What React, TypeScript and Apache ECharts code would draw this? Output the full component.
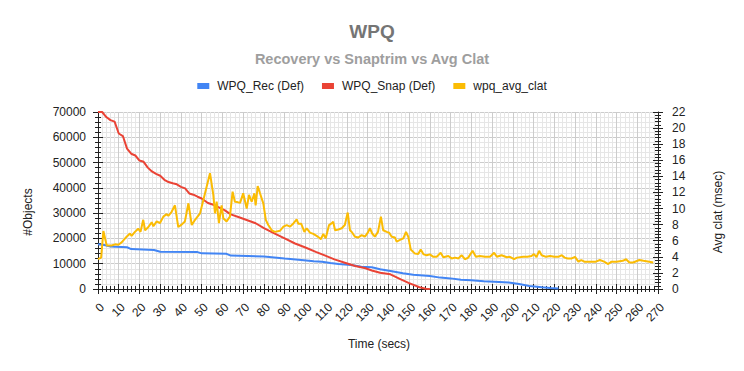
import React, { useEffect, useRef } from "react";
import * as echarts from "echarts";

const FONT = 'Arial, "Liberation Sans", sans-serif';

const titleText = "WPQ";
const subtitleText = "Recovery vs Snaptrim vs Avg Clat";
const seriesNames = ["WPQ_Rec (Def)", "WPQ_Snap (Def)", "wpq_avg_clat"];
const xAxisName = "Time (secs)";
const leftAxisName = "#Objects";
const rightAxisName = "Avg clat (msec)";

const recTime = [0, 3, 6, 14, 16, 27, 30, 48, 50, 62, 64, 80, 85, 90, 98, 104, 108, 112, 116, 122, 127, 132, 136, 141, 147, 152, 160, 165, 170, 175, 180, 186, 191, 198, 203, 208, 214, 218, 222];
const recValues = [17700, 17400, 16800, 16500, 15800, 15400, 14700, 14600, 14100, 13900, 13200, 12900, 12500, 12100, 11500, 11000, 10800, 10300, 9900, 9500, 8800, 8600, 7800, 7100, 6200, 5600, 5100, 4500, 4200, 3700, 3500, 3100, 2900, 2600, 2000, 1200, 700, 400, 200];

const snapTime = [0, 2, 4, 6, 8, 10, 12, 14, 16, 18, 20, 22, 24, 26, 28, 30, 32, 34, 36, 38, 40, 42, 44, 46, 48, 50, 53, 56, 61, 64, 68, 71, 76, 80, 85, 90, 95, 100, 105, 109, 114, 119, 124, 129, 132, 136, 141, 146, 150, 155, 158, 160];
const snapValues = [70000, 70000, 68000, 66800, 66200, 61500, 60500, 55500, 53500, 52800, 50800, 50300, 48000, 46500, 45500, 44800, 43200, 42300, 41800, 41400, 40400, 39800, 37800, 37300, 36500, 35800, 34000, 33200, 31200, 29500, 28400, 27500, 26000, 24100, 22000, 20000, 18000, 16400, 14700, 13400, 11700, 10400, 9100, 8200, 7300, 6400, 5800, 3800, 2300, 700, 100, 0];

const clatTime = [0, 1.5, 2.6, 4.2, 6.6, 8.2, 9.8, 11.4, 13.8, 15.4, 16.2, 17.8, 19.4, 20.5, 21.8, 22.7, 24.3, 25.9, 26.7, 28.3, 29.9, 31.5, 33.1, 33.9, 35.5, 37.1, 38.7, 40.3, 41.9, 43.6, 45.2, 46.8, 49.2, 51.6, 54, 55.6, 56.4, 57.2, 58.3, 59.6, 60.4, 62, 63.6, 64.9, 66, 67.2, 68.5, 70, 71.7, 72.8, 74.1, 75.4, 76, 77, 78.1, 79.7, 80.9, 82.1, 83.8, 85.3, 87.8, 89.4, 91, 92.6, 94.2, 95.8, 96.6, 98, 99.5, 100.6, 102.2, 103.8, 105.4, 106.5, 107.5, 108.6, 109.8, 111.4, 112.6, 113.4, 114.3, 115.9, 117.5, 119, 120.4, 121.5, 122.6, 123.9, 125.5, 127.1, 128.7, 130.3, 131.1, 132.2, 133.5, 135, 136.4, 137.5, 139.2, 140.4, 141.6, 143.2, 144, 145.6, 147.2, 148.5, 149.6, 150.8, 152.8, 154.4, 155.6, 157, 158.5, 160, 161.7, 163.3, 165.2, 166.5, 168.9, 170.5, 172.2, 173.8, 175.3, 176.9, 178.5, 180.6, 182.2, 184.1, 186.6, 189, 191, 192.3, 194.6, 197.1, 198.6, 200.6, 202, 205, 207, 209, 210.2, 211.4, 212.7, 213.9, 216, 218, 220, 222, 223.6, 225, 226.5, 228.4, 230, 231.6, 233, 234.5, 237.2, 240, 242, 244, 246, 247.6, 250, 253, 254.6, 256.2, 258, 261, 263, 265.8, 267.7];
const clatValues = [3.7, 3.9, 7.2, 5.4, 5.4, 5.55, 5.5, 5.8, 6.5, 6.9, 6.6, 7.1, 7.5, 7.1, 8.6, 7.3, 7.7, 8.3, 7.8, 8.4, 8.2, 9.0, 9.3, 9.1, 9.6, 10.4, 7.7, 8.0, 8.4, 10.65, 7.95, 8.6, 9.4, 11.9, 14.4, 11.7, 9.4, 10.85, 8.2, 10.4, 8.8, 8.4, 9.0, 12.1, 10.85, 10.8, 10.7, 11.9, 10.0, 11.7, 10.85, 11.9, 10.4, 12.8, 11.9, 10.65, 8.6, 7.95, 7.3, 7.1, 7.25, 7.75, 7.95, 7.75, 8.15, 8.65, 8.1, 8.1, 7.1, 7.55, 7.0, 6.85, 6.6, 6.4, 6.2, 6.85, 6.3, 7.95, 8.15, 8.35, 7.3, 7.4, 7.55, 7.95, 9.5, 7.3, 7.0, 6.5, 6.4, 6.7, 6.5, 7.1, 7.55, 6.9, 6.5, 7.1, 9.0, 7.3, 7.1, 7.0, 6.5, 6.4, 5.9, 6.1, 6.3, 7.1, 6.5, 4.9, 4.4, 4.35, 4.9, 4.3, 4.2, 4.3, 4.0, 4.0, 4.5, 3.95, 4.1, 3.8, 3.9, 3.8, 4.2, 3.7, 3.9, 4.75, 4.0, 4.1, 4.0, 4.0, 4.5, 4.0, 4.2, 3.95, 4.0, 3.7, 3.9, 4.0, 4.0, 4.1, 4.35, 3.95, 4.75, 4.2, 4.0, 4.1, 4.0, 4.0, 4.2, 3.9, 3.8, 3.8, 4.0, 3.4, 3.6, 3.4, 3.4, 3.4, 3.6, 3.4, 3.1, 3.4, 3.4, 3.5, 3.7, 3.3, 3.3, 3.6, 3.5, 3.4, 3.3];

const COLORS = ["#4285F4", "#EA4335", "#FBBC04"];
const AXIS_COLOR = "#222222";
const LABEL_COLOR = "#222222";

function pairs(t: number[], v: number[]) {
  return t.map((x, i) => [x, v[i]]);
}

export default function App() {
  const ref = useRef<HTMLDivElement>(null);
  useEffect(() => {
    if (!ref.current) return;
    const chart = echarts.init(ref.current, undefined, { renderer: "svg" });
    const tickLine = { color: AXIS_COLOR, width: 1 };
    const plain = (v: number) => String(v);
    const option: any = {
      animation: false,
      textStyle: { fontFamily: FONT },
      color: COLORS,
      title: [
        {
          text: titleText,
          left: "center",
          top: 21,
          padding: 0,
          textStyle: { fontSize: 19, fontWeight: "bold", color: "#757575", lineHeight: 20, fontFamily: FONT },
        },
        {
          text: subtitleText,
          left: "center",
          top: 51,
          padding: 0,
          textStyle: { fontSize: 14.5, fontWeight: "bold", color: "#9e9e9e", lineHeight: 15, fontFamily: FONT },
        },
      ],
      legend: {
        top: 79,
        left: "center",
        padding: 0,
        icon: "rect",
        itemWidth: 12,
        itemHeight: 6,
        itemGap: 18,
        data: seriesNames,
        textStyle: { fontSize: 12, color: LABEL_COLOR, fontFamily: FONT, lineHeight: 14, padding: [0, 0, 0, 3] },
      },
      grid: { left: 98, right: 86, top: 112, bottom: 82, containLabel: false },
      xAxis: [
        {
          type: "value",
          min: 0,
          max: 270,
          interval: 10,
          position: "bottom",
          axisLine: { show: true, onZero: false, lineStyle: tickLine },
          axisTick: { show: true, length: 5, lineStyle: tickLine },
          minorTick: { show: true, splitNumber: 5, length: 3, lineStyle: tickLine },
          axisLabel: {
            rotate: 45,
            margin: 12,
            verticalAlign: "top",
            fontSize: 12,
            color: LABEL_COLOR,
            fontFamily: FONT,
            formatter: plain,
          },
          splitLine: { show: true, lineStyle: { color: "#cccccc", width: 1 } },
          minorSplitLine: { show: true, lineStyle: { color: "#e6e6e6", width: 1 } },
        },
        {
          type: "value",
          min: 0,
          max: 270,
          interval: 10,
          position: "bottom",
          axisLine: { show: false, onZero: false },
          axisTick: { show: true, inside: true, length: 5, lineStyle: tickLine },
          minorTick: { show: true, splitNumber: 5, length: 3, lineStyle: tickLine },
          axisLabel: { show: false },
          splitLine: { show: false },
        },
      ],
      yAxis: [
        {
          type: "value",
          min: 0,
          max: 70000,
          interval: 10000,
          position: "left",
          axisLine: { show: true, onZero: false, lineStyle: tickLine },
          axisTick: { show: true, length: 5, lineStyle: tickLine },
          minorTick: { show: true, splitNumber: 5, length: 3, lineStyle: tickLine },
          axisLabel: { margin: 12, fontSize: 12, color: LABEL_COLOR, fontFamily: FONT, formatter: plain },
          splitLine: { show: true, lineStyle: { color: "#cccccc", width: 1 } },
          minorSplitLine: { show: true, lineStyle: { color: "#e6e6e6", width: 1 } },
        },
        {
          type: "value",
          min: 0,
          max: 22,
          interval: 2,
          position: "right",
          axisLine: { show: true, onZero: false, lineStyle: tickLine },
          axisTick: { show: true, length: 5, lineStyle: tickLine },
          minorTick: { show: true, splitNumber: 5, length: 3, lineStyle: tickLine },
          axisLabel: { margin: 14, fontSize: 12, color: LABEL_COLOR, fontFamily: FONT, formatter: plain },
          splitLine: { show: false },
        },
        {
          type: "value",
          min: 0,
          max: 70000,
          interval: 10000,
          position: "left",
          axisLine: { show: false, onZero: false },
          axisTick: { show: true, inside: true, length: 5, lineStyle: tickLine },
          minorTick: { show: true, splitNumber: 5, length: 3, lineStyle: tickLine },
          axisLabel: { show: false },
          splitLine: { show: false },
        },
        {
          type: "value",
          min: 0,
          max: 22,
          interval: 2,
          position: "right",
          axisLine: { show: false, onZero: false },
          axisTick: { show: true, inside: true, length: 5, lineStyle: tickLine },
          minorTick: { show: true, splitNumber: 5, length: 3, lineStyle: tickLine },
          axisLabel: { show: false },
          splitLine: { show: false },
        },
      ],
      series: [
        {
          name: seriesNames[0],
          type: "line",
          xAxisIndex: 0,
          yAxisIndex: 0,
          showSymbol: false,
          lineStyle: { width: 2, color: COLORS[0] },
          itemStyle: { color: COLORS[0] },
          data: pairs(recTime, recValues),
          z: 3,
        },
        {
          name: seriesNames[1],
          type: "line",
          xAxisIndex: 0,
          yAxisIndex: 0,
          showSymbol: false,
          lineStyle: { width: 2, color: COLORS[1] },
          itemStyle: { color: COLORS[1] },
          data: pairs(snapTime, snapValues),
          z: 4,
        },
        {
          name: seriesNames[2],
          type: "line",
          xAxisIndex: 0,
          yAxisIndex: 1,
          showSymbol: false,
          lineStyle: { width: 2, color: COLORS[2] },
          itemStyle: { color: COLORS[2] },
          data: pairs(clatTime, clatValues),
          z: 5,
        },
      ],
      graphic: [
        {
          type: "text",
          x: 28,
          y: 212,
          rotation: Math.PI / 2,
          style: {
            text: leftAxisName,
            fontSize: 12,
            fontFamily: FONT,
            fill: LABEL_COLOR,
            align: "center",
            verticalAlign: "middle",
            textAlign: "center",
            textVerticalAlign: "middle",
          },
        },
        {
          type: "text",
          x: 718,
          y: 212,
          rotation: Math.PI / 2,
          style: {
            text: rightAxisName,
            fontSize: 12,
            fontFamily: FONT,
            fill: LABEL_COLOR,
            align: "center",
            verticalAlign: "middle",
            textAlign: "center",
            textVerticalAlign: "middle",
          },
        },
        {
          type: "text",
          x: 379,
          y: 344,
          style: {
            text: xAxisName,
            fontSize: 12,
            fontFamily: FONT,
            fill: LABEL_COLOR,
            align: "center",
            verticalAlign: "middle",
            textAlign: "center",
            textVerticalAlign: "middle",
          },
        },
      ],
    };
    chart.setOption(option);
    return () => chart.dispose();
  }, []);
  return (
    <div
      ref={ref}
      style={{ position: "fixed", left: 0, top: 0, width: 744, height: 371, background: "#ffffff" }}
    />
  );
}
